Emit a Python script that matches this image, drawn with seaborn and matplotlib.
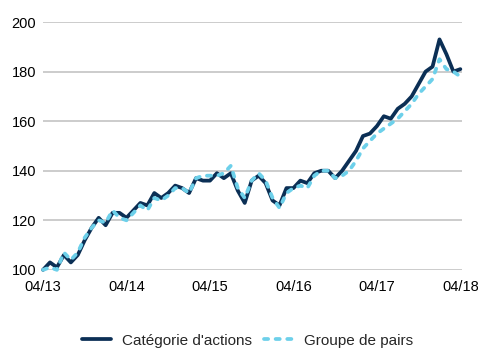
import matplotlib
matplotlib.use("Agg")
import matplotlib.pyplot as plt
import seaborn as sns
import pandas as pd

# Monthly index values, April 2013 = 100
categorie = [100, 103, 101, 106, 103, 106, 112, 117, 121, 118, 123, 123, 121,
             124, 127, 126, 131, 129, 131, 134, 133, 131, 137, 136, 136,
             139, 137, 139, 132, 127, 136, 138, 135, 128, 126, 133, 133,
             136, 135, 139, 140, 140, 137, 140, 144, 148, 154, 155, 158,
             162, 161, 165, 167, 170, 175, 180, 182, 193, 187, 180, 181]
pairs = [100, 101, 100, 107, 104, 107, 113, 117, 120, 119, 124, 121, 120,
         123, 126, 124, 129, 128, 130, 133, 133, 131, 137, 138, 138,
         138, 139, 142, 133, 129, 136, 139, 136, 129, 125, 131, 133,
         134, 133, 138, 140, 140, 137, 138, 140, 144, 149, 152, 155,
         157, 159, 161, 164, 167, 171, 174, 177, 185, 181, 180, 178]
tick_labels = ["04/13", "04/14", "04/15", "04/16", "04/17", "04/18"]
y_ticks = [100, 120, 140, 160, 180, 200]

months = list(range(len(categorie)))
df = pd.DataFrame({"mois": months, "cat": categorie, "pairs": pairs})

sns.set_theme(style="white")
plt.rcParams["font.family"] = ["Liberation Sans", "DejaVu Sans"]

dark = "#0b2f55"
light = "#6dd0ea"

fig = plt.figure(figsize=(4.78, 3.5), dpi=100)
ax = fig.add_axes([0.09, 0.229, 0.876, 0.708])

for y in y_ticks:
    ax.axhline(y, color="#cccccc", lw=1.4, zorder=0)

sns.lineplot(data=df, x="mois", y="cat", ax=ax, color=dark, lw=2.7,
             label="Catégorie d'actions", clip_on=False, zorder=3)
sns.lineplot(data=df, x="mois", y="pairs", ax=ax, color=light, lw=2.7,
             label="Groupe de pairs", clip_on=False, zorder=4,
             dashes=(1.1, 2.0), dash_capstyle="round")

ax.set_xlim(0, 60.2)
ax.set_ylim(100, 200)
ax.set_xticks(range(0, 61, 12))
ax.set_xticklabels(tick_labels)
ax.set_yticks(y_ticks)
ax.set_xlabel("")
ax.set_ylabel("")
ax.tick_params(axis="both", length=0, labelsize=10.5, colors="black")
ax.tick_params(axis="x", pad=7)
ax.tick_params(axis="y", pad=5)
for s in ax.spines.values():
    s.set_visible(False)

ax.legend(loc="upper center", bbox_to_anchor=(0.488, -0.215), ncol=2,
          frameon=False, fontsize=11, handlelength=1.9, columnspacing=0.8,
          handletextpad=0.7, borderpad=0.2)

fig.savefig("out.png", dpi=100)
